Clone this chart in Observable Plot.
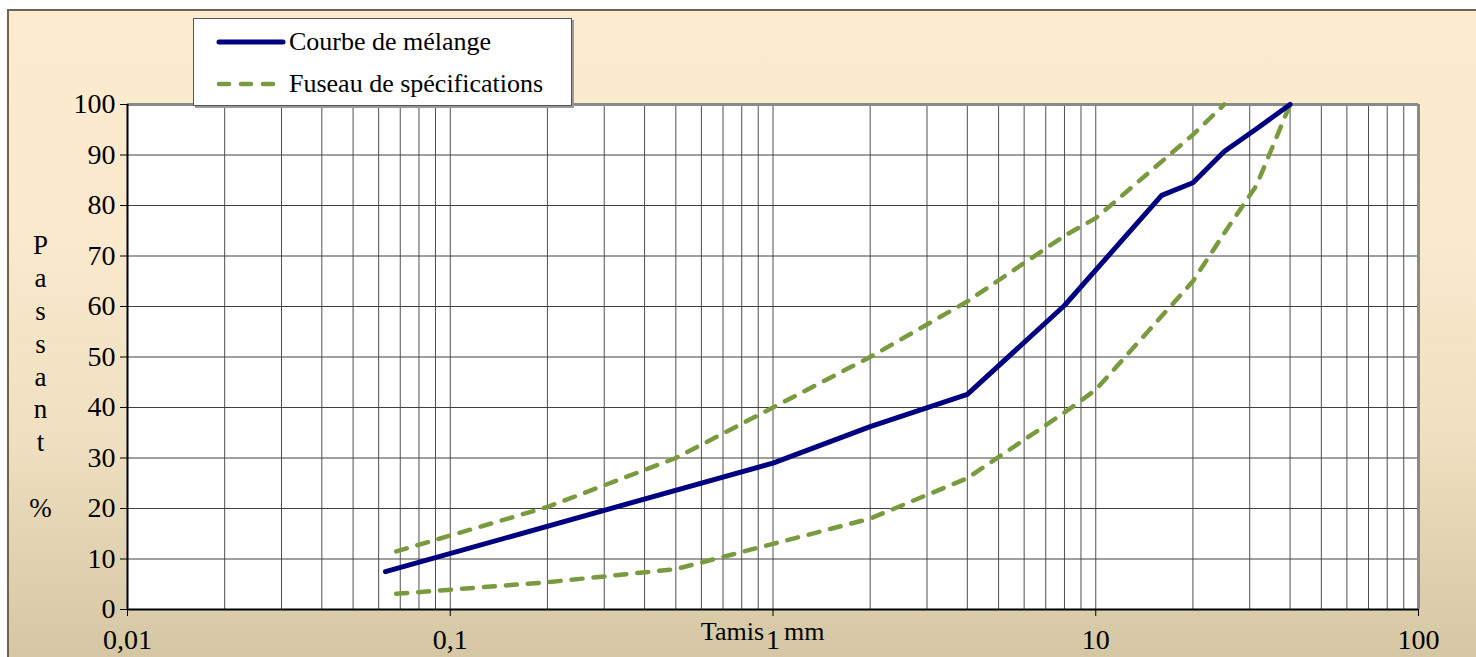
<!DOCTYPE html>
<html>
<head>
<meta charset="utf-8">
<script src="https://cdn.jsdelivr.net/npm/d3@7"></script>
<script src="https://cdn.jsdelivr.net/npm/@observablehq/plot@0.6"></script>
<style>
  html, body { margin: 0; padding: 0; background: #ffffff; }
  #wrap { position: relative; width: 1476px; height: 657px; overflow: hidden; font-family: "Liberation Serif", "Times New Roman", serif; }
  #bg { position: absolute; left: 7px; top: 9px; width: 1480px; height: 660px; box-sizing: border-box;
        border: 2px solid #6e6250;
        background: linear-gradient(to bottom, #FDEBD0 0%, #FAE9CD 35%, #EEE0C0 65%, #D4C6A2 100%); }
  #chart { position: absolute; left: 0; top: 0; }
  #legend { position: absolute; left: 193px; top: 18px; width: 379px; height: 88px; box-sizing: border-box;
            background: #fff; border: 1px solid #555; box-shadow: 2px 2px 0 #9a9a9a; }
  .row { position: absolute; left: 0; height: 30px; display: flex; align-items: center; }
  .row svg { margin-left: 22px; }
  .row span { font-size: 26px; color: #000; margin-left: 3px; white-space: nowrap; }
</style>
</head>
<body>
<div id="wrap">
  <div id="bg"></div>
  <div id="chart"></div>
  <div id="legend">
    <div class="row" style="top:8px"><svg width="70" height="10"><line x1="3" y1="5" x2="67" y2="5" stroke="#000080" stroke-width="5" stroke-linecap="round"/></svg><span id="lg1"></span></div>
    <div class="row" style="top:50px"><svg width="70" height="10"><line x1="3" y1="5" x2="67" y2="5" stroke="#7A9A3F" stroke-width="4.5" stroke-linecap="round" stroke-dasharray="10,12"/></svg><span id="lg2"></span></div>
  </div>
</div>
<script>
// ---- Data ----
const seriesNames = ["Courbe de mélange", "Fuseau de spécifications"];

const melangeSieves = [0.063, 1, 2, 4, 8, 16, 20, 25, 31.5, 40];
const melangePassant = [7.5, 29, 36.2, 42.6, 60.2, 82, 84.5, 90.7, 95.2, 100];

const fuseauSupSieves = [0.068, 0.2, 0.5, 1, 2, 4, 8, 10, 20, 25];
const fuseauSupPassant = [11.5, 20.3, 30, 40, 50, 61, 74, 77.5, 94, 100];

const fuseauInfSieves = [0.068, 0.2, 0.5, 1, 2, 4, 8, 10, 20, 25, 31.5, 40];
const fuseauInfPassant = [3.1, 5.4, 8, 13, 18, 26, 39, 43.5, 65, 74.5, 84, 100];

const xTicks = [0.01, 0.1, 1, 10, 100];
const xTickLabels = ["0,01", "0,1", "1", "10", "100"];
const yTicks = [0, 10, 20, 30, 40, 50, 60, 70, 80, 90, 100];
const xLabelParts = ["Tamis", "mm"];
const yLabelLetters = ["P", "a", "s", "s", "a", "n", "t", "", "%"];

// ---- Build ----
document.getElementById("lg1").textContent = seriesNames[0];
document.getElementById("lg2").textContent = seriesNames[1];

const toRows = (xs, ys) => xs.map((s, i) => ({s, p: ys[i]}));
const melange = toRows(melangeSieves, melangePassant);
const sup = toRows(fuseauSupSieves, fuseauSupPassant);
const inf = toRows(fuseauInfSieves, fuseauInfPassant);

const gridMultipliers = [2, 3, 4, 5, 6, 7, 8, 9];
const gridX = [];
for (const d of xTicks.slice(0, -1)) for (const m of gridMultipliers) gridX.push(d * m);
const majorGridX = xTicks.slice(1, -1);

const green = "#7A9A3F";
const navy = "#000080";
const serif = "'Liberation Serif', 'Times New Roman', serif";

const chart = Plot.plot({
  width: 1476,
  height: 657,
  marginLeft: 127,
  marginRight: 58,
  marginTop: 104,
  marginBottom: 48,
  x: {type: "log", domain: [0.01, 100]},
  y: {domain: [0, 100]},
  style: {fontFamily: serif, fontSize: "28px", color: "#000", background: "transparent", overflow: "visible"},
  marks: [
    Plot.frame({fill: "white", stroke: null}),
    Plot.ruleX(gridX, {stroke: "#505050", strokeWidth: 1}),
    Plot.ruleX(majorGridX, {stroke: "#505050", strokeWidth: 1}),
    Plot.ruleY(yTicks.slice(1, -1), {stroke: "#404040", strokeWidth: 1}),
    Plot.ruleY([100], {stroke: "#8a8a8a", strokeWidth: 3}),
    Plot.ruleX([100], {stroke: "#8a8a8a", strokeWidth: 3}),
    Plot.axisY({ticks: yTicks, tickSize: 7, tickPadding: 5, label: null, fontSize: 28}),
    Plot.axisX({ticks: xTicks, tickSize: 7, tickPadding: 13, label: null, fontSize: 28,
                tickFormat: d => xTickLabels[xTicks.indexOf(d)]}),
    Plot.ruleX([0.01], {stroke: "#000", strokeWidth: 2}),
    Plot.ruleY([0], {stroke: "#000", strokeWidth: 2}),
    Plot.line(inf, {x: "s", y: "p", stroke: green, strokeWidth: 4.5, strokeDasharray: "11,11", strokeLinecap: "round"}),
    Plot.line(sup, {x: "s", y: "p", stroke: green, strokeWidth: 4.5, strokeDasharray: "11,11", strokeLinecap: "round"}),
    Plot.line(melange, {x: "s", y: "p", stroke: navy, strokeWidth: 5, strokeLinejoin: "miter"}),
    Plot.text([xLabelParts[0]], {x: 1, frameAnchor: "bottom", dx: -9, dy: 30, textAnchor: "end", fontSize: 26, fill: "#000"}),
    Plot.text([xLabelParts[1]], {x: 1, frameAnchor: "bottom", dx: 11, dy: 30, textAnchor: "start", fontSize: 26, fill: "#000"}),
    Plot.text([yLabelLetters.join("\n")], {frameAnchor: "left", dx: -87, dy: 18, textAnchor: "middle", lineHeight: 1.22, fontSize: 27, fill: "#000"})
  ]
});
document.getElementById("chart").appendChild(chart);
</script>
</body>
</html>
